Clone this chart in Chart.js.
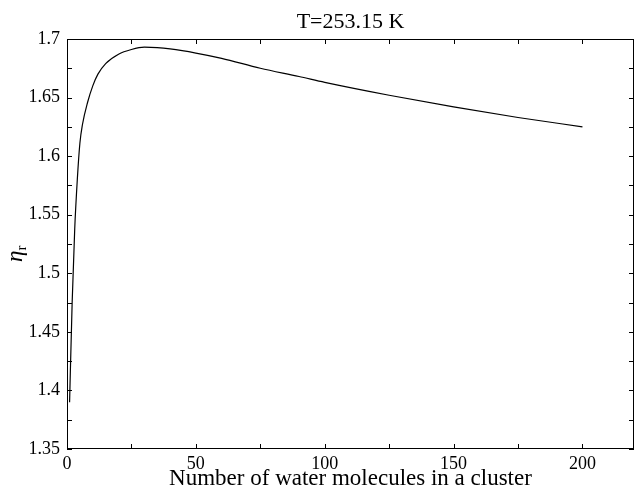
<!DOCTYPE html>
<html>
<head>
<meta charset="utf-8">
<script src="https://cdn.jsdelivr.net/npm/chart.js@4/dist/chart.umd.min.js"></script>
<style>
	body { margin: 0; background: #fff; overflow: hidden; }
	canvas { display: block; }
</style>
</head>
<body>
<canvas id="chart" width="635" height="494"></canvas>
<script>
// values
var clusterSize = [1, 2, 3, 4, 5, 6, 8, 10, 12, 15, 20, 25, 30, 35, 40, 50, 60, 75, 90, 100, 125, 150, 175, 200]
var eta = [1.390, 1.475, 1.538, 1.580, 1.611, 1.627, 1.646, 1.660, 1.670, 1.679, 1.687, 1.691, 1.693, 1.6926, 1.6915, 1.688, 1.6835, 1.675, 1.668, 1.663, 1.652, 1.642, 1.633, 1.625]
var titleText = 'T=253.15 K'
var xTitle = 'Number of water molecules in a cluster'

var serif = 'Liberation Serif'

var points = []
for (var i = 0; i < clusterSize.length; i++) {
	points.push({ x: clusterSize[i], y: eta[i] })
}

// MATLAB style box with inward ticks, title and the eta_r label
var boxPlugin = {
	id: 'box',
	afterDraw: function (chart) {
		var ctx = chart.ctx
		var a = chart.chartArea
		var xs = chart.scales.x
		var ys = chart.scales.y
		ctx.save()
		ctx.strokeStyle = '#000'
		ctx.lineWidth = 1
		ctx.strokeRect(a.left + 0.5, a.top + 0.5, a.right - a.left - 1, a.bottom - a.top - 1)
		ctx.beginPath()
		xs.ticks.forEach(function (t) {
			var px = Math.round(xs.getPixelForValue(t.value)) + 0.5
			ctx.moveTo(px, a.bottom); ctx.lineTo(px, a.bottom - 5)
			ctx.moveTo(px, a.top); ctx.lineTo(px, a.top + 5)
		})
		ys.ticks.forEach(function (t) {
			var py = Math.round(ys.getPixelForValue(t.value)) + 0.5
			ctx.moveTo(a.left, py); ctx.lineTo(a.left + 5, py)
			ctx.moveTo(a.right, py); ctx.lineTo(a.right - 5, py)
		})
		ctx.stroke()

		ctx.fillStyle = '#000'
		ctx.font = '22px "' + serif + '"'
		ctx.textAlign = 'center'
		ctx.textBaseline = 'alphabetic'
		ctx.fillText(titleText, (a.left + a.right) / 2, 28)

		ctx.translate(22, 262)
		ctx.rotate(-Math.PI / 2)
		ctx.textAlign = 'left'
		ctx.font = 'italic 23px "' + serif + '"'
		ctx.fillText('η', 0, 0)
		var w = ctx.measureText('η').width
		ctx.font = '15px "' + serif + '"'
		ctx.fillText('r', w, 4)
		ctx.restore()
	}
}

var ctx = document.getElementById('chart').getContext('2d')
var cfg = {
	type: 'line',
	data: {
		datasets: [
			{
				data: points,
				borderColor: '#000',
				borderWidth: 1.2,
				pointRadius: 0,
				cubicInterpolationMode: 'monotone',
				fill: false
			}
		]
	},
	options: {
		responsive: false,
		animation: false,
		layout: { padding: { top: 39, right: 1, left: 0, bottom: 0 } },
		plugins: {
			legend: { display: false },
			tooltip: { enabled: false }
		},
		scales: {
			x: {
				type: 'linear',
				min: 0,
				max: 220,
				afterFit: function (s) { s.height = 45 },
				grid: { display: false, drawTicks: false },
				border: { display: false },
				ticks: {
					stepSize: 25,
					includeBounds: false,
					autoSkip: false,
					maxRotation: 0,
					padding: 4,
					color: '#000',
					font: { family: serif, size: 18 },
					callback: function (v) { return v % 50 === 0 ? String(v) : '' }
				},
				title: {
					display: true,
					text: xTitle,
					color: '#000',
					font: { family: serif, size: 23 },
					padding: { top: 0, bottom: 1 }
				}
			},
			y: {
				min: 1.35,
				max: 1.7,
				afterFit: function (s) { s.width = 67 },
				grid: { display: false, drawTicks: false },
				border: { display: false },
				ticks: {
					stepSize: 0.025,
					autoSkip: false,
					padding: 7,
					color: '#000',
					font: { family: serif, size: 18 },
					callback: function (v) {
						var r = Math.round(v * 1000)
						return r % 50 === 0 ? String(r / 1000) : ''
					}
				}
			}
		}
	},
	plugins: [boxPlugin]
}
var chart = new Chart(ctx, cfg)
</script>
</body>
</html>
